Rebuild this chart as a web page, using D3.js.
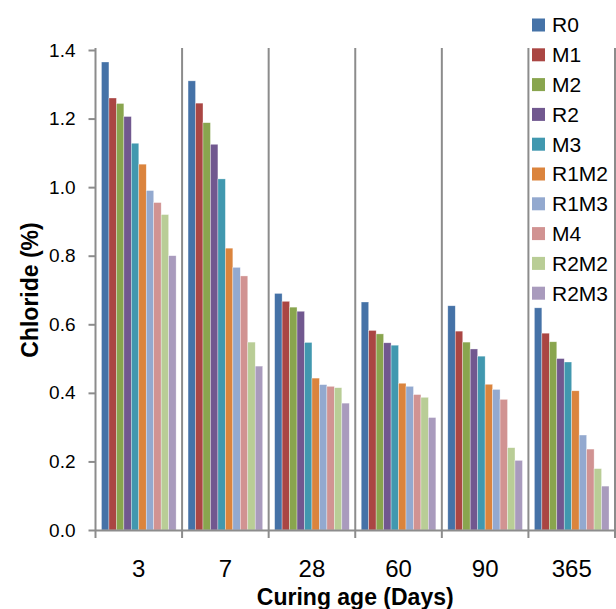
<!DOCTYPE html>
<html>
<head>
<meta charset="utf-8">
<script src="https://cdn.jsdelivr.net/npm/d3@7/dist/d3.min.js"></script>
<style>
  html, body { margin: 0; padding: 0; background: #fff; }
  svg { display: block; font-family: "Liberation Sans", Arial, sans-serif; }
</style>
</head>
<body>
<svg id="chart" width="616" height="609"></svg>
<script>
const categories = ["3", "7", "28", "60", "90", "365"];
const seriesNames = ["R0", "M1", "M2", "R2", "M3", "R1M2", "R1M3", "M4", "R2M2", "R2M3"];
const seriesColors = ["#4572A7", "#AA4643", "#89A54E", "#71588F", "#4198AF", "#DB843D", "#93A9CF", "#D19392", "#B9CD96", "#A99BBD"];
// values per series, in category order (3, 7, 28, 60, 90, 365 days)
const R0   = [1.365, 1.310, 0.690, 0.665, 0.654, 0.648];
const M1   = [1.260, 1.245, 0.667, 0.582, 0.580, 0.574];
const M2   = [1.244, 1.188, 0.650, 0.572, 0.548, 0.549];
const R2   = [1.206, 1.125, 0.638, 0.546, 0.528, 0.500];
const M3   = [1.128, 1.024, 0.547, 0.539, 0.507, 0.490];
const R1M2 = [1.067, 0.822, 0.443, 0.428, 0.425, 0.406];
const R1M3 = [0.990, 0.766, 0.424, 0.419, 0.410, 0.277];
const M4   = [0.955, 0.741, 0.419, 0.395, 0.381, 0.236];
const R2M2 = [0.920, 0.548, 0.415, 0.387, 0.240, 0.179];
const R2M3 = [0.800, 0.478, 0.370, 0.328, 0.203, 0.128];
const seriesValues = [R0, M1, M2, R2, M3, R1M2, R1M3, M4, R2M2, R2M3];
const yTicks = [0.0, 0.2, 0.4, 0.6, 0.8, 1.0, 1.2, 1.4];
const yTitle = "Chloride (%)";
const xTitle = "Curing age (Days)";

const svg = d3.select("#chart");
const axisColor = "#8c8c8c";

const y = d3.scaleLinear().domain([0, 1.4]).range([530, 50]);
const x0 = d3.scaleBand().domain(categories).range([95.5, 615]).paddingInner(0).paddingOuter(0);
const x1 = d3.scaleBand().domain(seriesNames).range([0, x0.bandwidth()]).paddingInner(0).paddingOuter(0.8);
const color = d3.scaleOrdinal().domain(seriesNames).range(seriesColors);

// vertical gridlines at category boundaries
const bounds = categories.map(c => x0(c) + x0.bandwidth());
svg.append("g").selectAll("line").data(bounds).join("line")
  .attr("x1", d => d).attr("x2", d => d)
  .attr("y1", y(1.4) - 2).attr("y2", y(0))
  .attr("stroke", axisColor).attr("stroke-width", 2);

// bars
const groups = svg.append("g").selectAll("g").data(categories).join("g")
  .attr("transform", c => `translate(${x0(c)},0)`);
groups.selectAll("rect")
  .data((c, ci) => seriesNames.map((s, si) => ({ s, v: seriesValues[si][ci] })))
  .join("rect")
  .attr("x", d => x1(d.s))
  .attr("y", d => y(d.v))
  .attr("width", x1.bandwidth())
  .attr("height", d => y(0) - y(d.v))
  .attr("fill", d => color(d.s))
  .attr("stroke", "#ffffff").attr("stroke-opacity", 0.55).attr("stroke-width", 0.6);

// y axis
const yAxis = svg.append("g").attr("transform", `translate(${x0.range()[0]},0)`)
  .call(d3.axisLeft(y).tickValues(yTicks).tickFormat(d3.format(".1f")).tickSize(7).tickPadding(13));
yAxis.select(".domain").attr("stroke", axisColor).attr("stroke-width", 2)
  .attr("d", `M0,${y(1.4) - 2}V${y(0)}`);
yAxis.selectAll(".tick line").attr("stroke", axisColor).attr("stroke-width", 2);
yAxis.selectAll(".tick text").attr("font-size", 19).attr("fill", "#000")
  .attr("font-family", "'Liberation Sans', Arial, sans-serif");

// x axis
const xAxis = svg.append("g").attr("transform", `translate(0,${y(0)})`)
  .call(d3.axisBottom(x0).tickSize(0).tickPadding(30));
xAxis.select(".domain").attr("stroke", axisColor).attr("stroke-width", 2);
xAxis.selectAll(".tick text").attr("font-size", 24).attr("fill", "#000")
  .attr("font-family", "'Liberation Sans', Arial, sans-serif");
const xBoundaries = [x0.range()[0]].concat(bounds);
xAxis.append("g").selectAll("line").data(xBoundaries).join("line")
  .attr("x1", d => d).attr("x2", d => d).attr("y1", 0).attr("y2", 8)
  .attr("stroke", axisColor).attr("stroke-width", 2);

// axis titles
svg.append("text")
  .attr("transform", `translate(38,${(y(0) + y(1.4)) / 2}) rotate(-90)`)
  .attr("text-anchor", "middle")
  .attr("font-weight", "bold").attr("font-size", 23)
  .text(yTitle);
svg.append("text")
  .attr("x", (x0.range()[0] + x0.range()[1]) / 2).attr("y", 605)
  .attr("text-anchor", "middle")
  .attr("font-weight", "bold").attr("font-size", 23)
  .text(xTitle);

// legend
const legend = svg.append("g").selectAll("g").data(seriesNames).join("g")
  .attr("transform", (d, i) => `translate(532,${25 + i * 29.8})`);
legend.append("rect").attr("x", 0).attr("y", -6.5).attr("width", 13).attr("height", 13)
  .attr("fill", d => color(d));
legend.append("text").attr("x", 20).attr("y", 0).attr("dy", "0.35em")
  .attr("font-size", 21).text(d => d);
</script>
</body>
</html>
